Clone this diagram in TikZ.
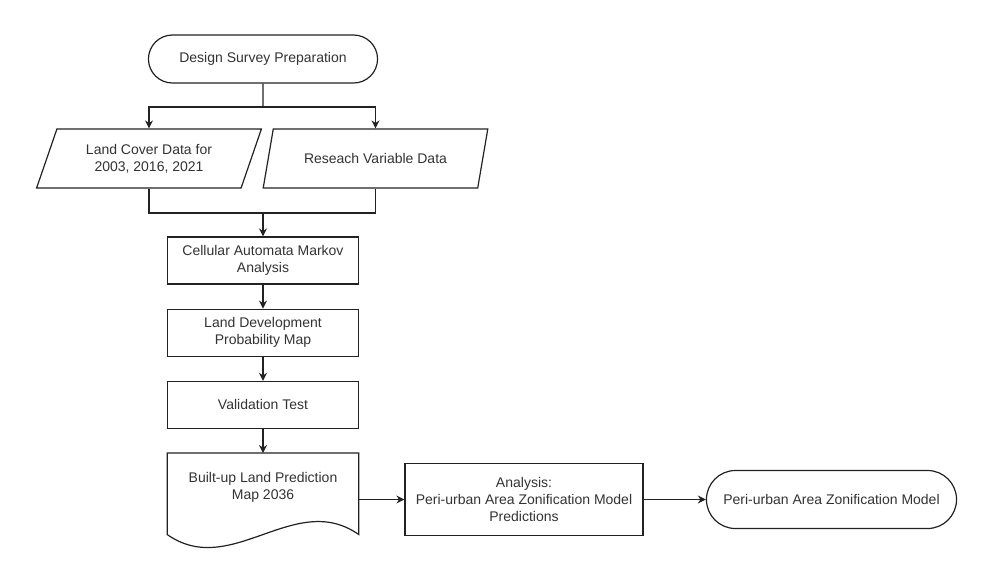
\documentclass[tikz,border=0pt]{standalone}
\usepackage{fontspec}
\setmainfont{Liberation Sans}
\usepackage{tikz}
\usetikzlibrary{shapes.geometric, shapes.misc, arrows.meta, positioning, calc}
\definecolor{mydark}{RGB}{34,34,34}
\definecolor{mytext}{RGB}{51,51,51}
\newcommand{\flowfont}{\fontsize{10.5}{13}\selectfont}
\tikzset{
  termnode/.style={rounded rectangle, draw=mydark, fill=white,
    align=center, font=\flowfont, text=mytext, line width=0.9pt},
  datanode/.style={trapezium, trapezium left angle=68.7, trapezium right angle=111.3,
    trapezium stretches=true, draw=mydark, fill=white,
    minimum width=168.75pt, minimum height=44.25pt,
    align=center, font=\flowfont, text=mytext, line width=0.9pt},
  procnode/.style={rectangle, draw=mydark, fill=white,
    minimum width=143.25pt, minimum height=35.25pt,
    align=center, font=\flowfont, text=mytext, line width=0.9pt},
  docnode/.style={rectangle, draw=none,
    minimum width=143.25pt, minimum height=51pt,
    align=center, font=\flowfont, text=mytext},
  arrow/.style={-{Stealth[length=6pt, width=6pt]}, line width=0.9pt, color=mydark},
  line/.style={line width=0.9pt, color=mydark}
}

\begin{document}
\begin{tikzpicture}[x=0.75pt, y=-0.75pt, node distance=18pt]
  \useasboundingbox (0,0) rectangle (993,569);

  % Start
  \node[termnode, minimum width=178.5pt, minimum height=36pt] (start) at (263,59) {Design Survey Preparation};

  % Input data
  \node[datanode] (cover) at (149,158.5) {Land Cover Data for\\2003, 2016, 2021};
  \node[datanode] (variable) at (375.5,158.5) {Reseach Variable Data};
  \coordinate (split) at (263,107);
  \coordinate (merge) at (263,213);

  % Main chain
  \node[procnode] (camarkov) at (263,260.5) {Cellular Automata Markov\\Analysis};
  \node[procnode, below=of camarkov] (probmap) {Land Development\\Probability Map};
  \node[procnode, below=of probmap] (validation) {Validation Test};
  \node[docnode, below=of validation] (predmap) {Built-up Land Prediction\\Map 2036};
  \draw[line] (predmap.north west) -- (predmap.north east) -- ($(predmap.south east)+(0,13)$)
    .. controls ($(predmap.south east)+(-64,-32)$) and ($(predmap.south west)+(64,58)$) .. ($(predmap.south west)+(0,13)$) -- cycle;

  % Output
  \node[procnode, minimum width=178.5pt, minimum height=54pt] (zoneanalysis) at (524,499.5) {Analysis:\\Peri-urban Area Zonification Model\\Predictions};
  \node[termnode, minimum width=194.25pt, minimum height=43.5pt] (zonemodel) at (831.5,499.5) {Peri-urban Area Zonification Model};

  % Connectors
  \draw[line] (start) -- (split);
  \draw[arrow] (split) -| (cover);
  \draw[arrow] (split) -| (variable);
  \draw[line] (cover.south) |- (merge);
  \draw[line] (variable.south) |- (merge);
  \draw[arrow] (merge) -- (camarkov);
  \draw[arrow] (camarkov) -- (probmap);
  \draw[arrow] (probmap) -- (validation);
  \draw[arrow] (validation) -- (predmap);
  \draw[arrow] (predmap.east |- zoneanalysis.west) -- (zoneanalysis.west);
  \draw[arrow] (zoneanalysis) -- (zonemodel);
\end{tikzpicture}
\end{document}
